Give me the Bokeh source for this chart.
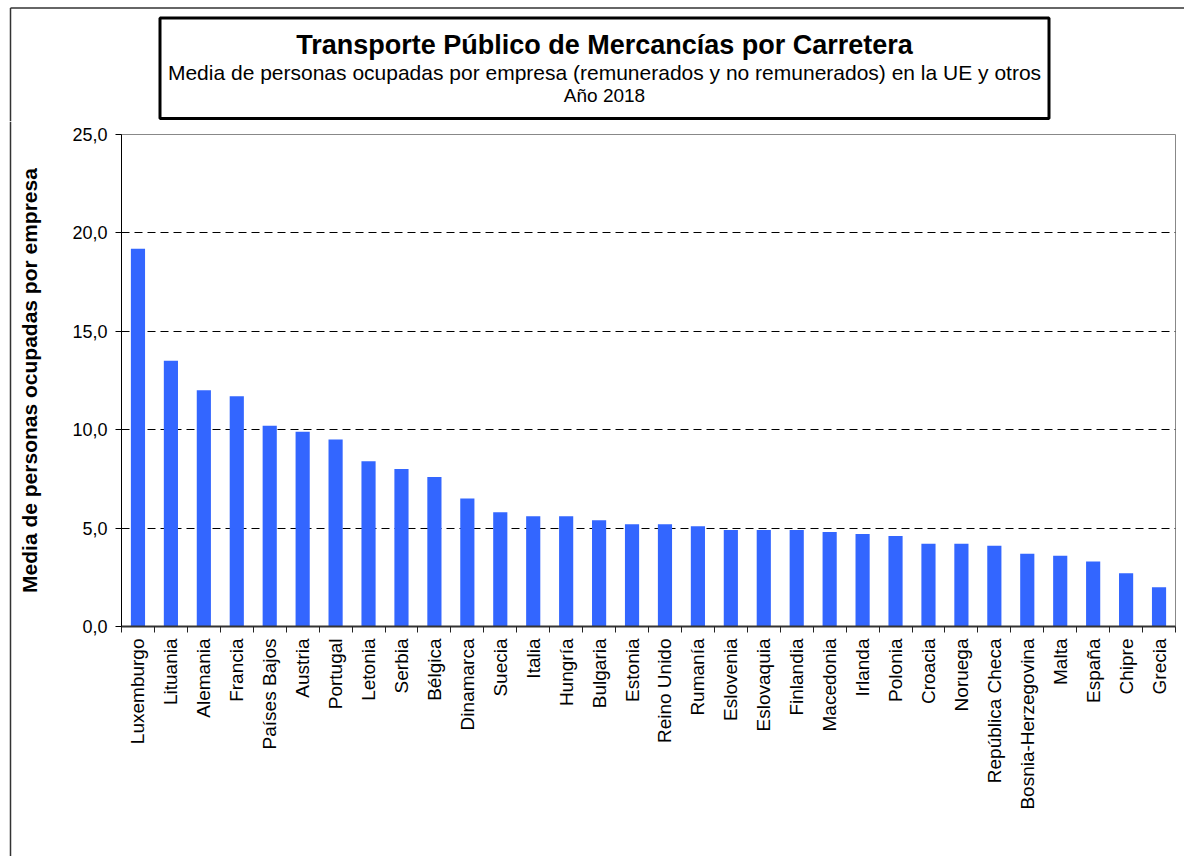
from math import pi
from bokeh.plotting import figure
from bokeh.layouts import row, column
from bokeh.models import Range1d, FixedTicker, LinearAxis, Grid, ColumnDataSource
from bokeh.core.properties import value
from bokeh.embed import file_html
from bokeh.resources import INLINE

countries = ["Luxemburgo", "Lituania", "Alemania", "Francia", "Países Bajos", "Austria",
             "Portugal", "Letonia", "Serbia", "Bélgica", "Dinamarca", "Suecia", "Italia",
             "Hungría", "Bulgaria", "Estonia", "Reino Unido", "Rumanía", "Eslovenia",
             "Eslovaquia", "Finlandia", "Macedonia", "Irlanda", "Polonia", "Croacia",
             "Noruega", "República Checa", "Bosnia-Herzegovina", "Malta", "España",
             "Chipre", "Grecia"]
values = [19.2, 13.5, 12.0, 11.7, 10.2, 9.9, 9.5, 8.4, 8.0, 7.6, 6.5, 5.8, 5.6,
          5.6, 5.4, 5.2, 5.2, 5.1, 4.9, 4.9, 4.9, 4.8, 4.7, 4.6, 4.2, 4.2, 4.1,
          3.7, 3.6, 3.3, 2.7, 2.0]
y_ticks = [0, 5, 10, 15, 20, 25]
grid_ticks = [5, 10, 15, 20]
title = "Transporte Público de Mercancías por Carretera"
subtitle = "Media de personas ocupadas por empresa (remunerados y no remunerados) en la UE y otros"
year_text = "Año 2018"
y_label = "Media de personas ocupadas por empresa"

FONT = "Liberation Sans"
TOTAL_W, TOTAL_H = 1184, 856
STRIP_W = 12
TOP_H = 121
FRAME_COLOR = "#333333"


def blank(width, height, xr, yr):
    f = figure(width=width, height=height, output_backend="svg", toolbar_location=None,
               x_range=Range1d(*xr), y_range=Range1d(*yr), x_axis_type=None, y_axis_type=None,
               min_border=0, outline_line_color=None)
    f.background_fill_color = "white"
    f.border_fill_color = "white"
    return f


# top panel: outer frame (top + left edge) and title box
top = blank(TOTAL_W, TOP_H, (0, TOTAL_W), (TOP_H, 0))
top.segment(x0=[10, 10], y0=[7.5, 7.5], x1=[TOTAL_W, 10], y1=[7.5, TOP_H],
            line_color=FRAME_COLOR, line_width=1.5)
top.quad(left=[159.5], right=[1048.5], top=[17.5], bottom=[118], fill_color="white",
         line_color="black", line_width=3)
for txt, yy, size, style in [(title, 44, "27px", "bold"), (subtitle, 72, "21px", "normal"),
                             (year_text, 95, "19px", "normal")]:
    top.text(x=[604], y=[yy], text=[txt], text_font=value(FONT), text_font_size=value(size),
             text_font_style=style, text_align="center", text_baseline="alphabetic",
             text_color="black")

CH_W = TOTAL_W - STRIP_W
CH_H = TOTAL_H - TOP_H

# left strip: outer frame left edge continued
strip = blank(STRIP_W, CH_H, (0, STRIP_W), (CH_H, 0))
strip.segment(x0=[10], y0=[0], x1=[10], y1=[CH_H], line_color=FRAME_COLOR, line_width=1.5)

# main chart
pos = [i + 1 for i in range(len(countries))]
src = ColumnDataSource(dict(x=pos, top=values, name=countries))

p = figure(width=CH_W, height=CH_H, output_backend="svg", toolbar_location=None,
           x_range=Range1d(0.5, len(countries) + 0.5), y_range=Range1d(0, 25),
           min_border_left=121 - STRIP_W, min_border_top=134 - TOP_H,
           min_border_right=TOTAL_W - 1175, min_border_bottom=TOTAL_H - 626,
           x_axis_type=None, y_axis_type=None)
p.outline_line_color = "#888888"
p.outline_line_width = 1
p.background_fill_color = "white"
p.border_fill_color = "white"

p.add_layout(Grid(dimension=1, ticker=FixedTicker(ticks=grid_ticks), grid_line_color="black",
                  grid_line_dash="8 5", grid_line_width=1))

p.vbar(x="x", top="top", width=0.43, source=src, fill_color="#3366FF", line_color=None)

xt = FixedTicker(ticks=pos, minor_ticks=[i + 0.5 for i in range(len(countries) + 1)])
xax = LinearAxis(ticker=xt)
xax.major_label_overrides = {k: c for k, c in zip(pos, countries)}
xax.major_label_orientation = pi / 2
xax.major_tick_out = 0
xax.major_tick_in = 0
xax.minor_tick_out = 6
xax.minor_tick_in = 0
xax.minor_tick_line_color = "#222222"
xax.axis_line_color = "#333333"
xax.axis_line_width = 2
xax.major_label_standoff = 6
xax.major_label_text_font = FONT
xax.major_label_text_font_size = "19px"
xax.major_label_text_color = "black"
p.add_layout(xax, "below")

yax = LinearAxis(ticker=FixedTicker(ticks=y_ticks))
yax.major_label_overrides = {t: f"{t:.1f}".replace(".", ",") for t in y_ticks}
yax.major_tick_out = 6
yax.major_tick_in = 0
yax.minor_tick_out = 0
yax.minor_tick_in = 0
yax.major_tick_line_color = "black"
yax.axis_line_color = "black"
yax.axis_line_width = 1
yax.major_label_standoff = 8
yax.major_label_text_font = FONT
yax.major_label_text_font_size = "18px"
yax.major_label_text_color = "black"
yax.axis_label = y_label
yax.axis_label_text_font = FONT
yax.axis_label_text_font_style = "bold"
yax.axis_label_text_font_size = "21px"
yax.axis_label_text_color = "black"
yax.axis_label_standoff = 28
p.add_layout(yax, "left")

layout = column(top, row(column(strip, spacing=0), p, spacing=0), spacing=0)
open("out.html", "w").write(file_html(layout, INLINE))
